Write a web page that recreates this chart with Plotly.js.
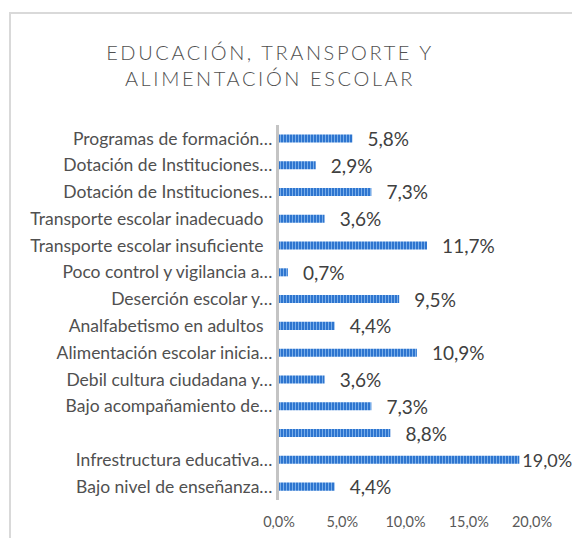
<!DOCTYPE html>
<html>
<head>
<meta charset="utf-8">
<script src="https://cdn.plot.ly/plotly-3.0.1.min.js"></script>
<style>
  html, body { margin: 0; padding: 0; background: #fff; }
  #frame { position: absolute; left: 9px; top: 12px; width: 600px; height: 600px; border: 2px solid #D9D9D9; box-sizing: border-box; }
  #chart { position: absolute; left: 0; top: 0; width: 572px; height: 538px; }
  #chart .gtitle { letter-spacing: 2.6px; }
</style>
</head>
<body>
<div id="frame"></div>
<div id="chart"></div>
<script>
const categories = [
  "Programas de formación…",
  "Dotación de Instituciones…",
  "Dotación de Instituciones…",
  "Transporte escolar inadecuado\u00a0\u00a0",
  "Transporte escolar insuficiente\u00a0\u00a0",
  "Poco control y vigilancia a…",
  "Deserción escolar y…",
  "Analfabetismo en adultos\u00a0\u00a0",
  "Alimentación escolar inicia…",
  "Debil cultura ciudadana y…",
  "Bajo acompañamiento de…",
  "\u00a0",
  "Infrestructura educativa…",
  "Bajo nivel de enseñanza…"
];
const values = [5.8, 2.9, 7.3, 3.6, 11.7, 0.7, 9.5, 4.4, 10.9, 3.6, 7.3, 8.8, 19.0, 4.4];
const xTickVals = [0, 5, 10, 15, 20];
const xTickText = ["0,0%", "5,0%", "10,0%", "15,0%", "20,0%"];

const positions = categories.map((_, i) => i);
const labels = values.map(v => {
  const s = v.toFixed(1).replace(".", ",") + "%";
  return v >= 18 ? s : "\u00a0\u00a0\u2009" + s;
});
const labelSizes = values.map(v => (v >= 18 ? 18 : 19));

const trace = {
  type: "bar",
  orientation: "h",
  x: values,
  y: positions,
  text: labels,
  textposition: "outside",
  cliponaxis: false,
  constraintext: "none",
  textfont: { family: "Lato, sans-serif", size: labelSizes, color: "#404040" },
  marker: {
    color: "#2E75CF",
    line: { width: 0 },
    pattern: { shape: "|", fgcolor: "#79AEEA", bgcolor: "#2E75CF", size: 3, solidity: 0.35 }
  },
  hoverinfo: "none"
};

const layout = {
  width: 572,
  height: 538,
  margin: { l: 279, r: 40, t: 125, b: 38 },
  paper_bgcolor: "rgba(0,0,0,0)",
  plot_bgcolor: "rgba(0,0,0,0)",
  showlegend: false,
  bargap: 0.7,
  title: {
    text: "EDUCACIÓN, TRANSPORTE Y<br>ALIMENTACIÓN ESCOLAR",
    font: { family: "Lato, sans-serif", size: 20, weight: 300, color: "#505050" },
    x: 0.472, xanchor: "center",
    y: 0.889, yanchor: "middle"
  },
  xaxis: {
    range: [0, 20],
    tickvals: xTickVals,
    ticktext: xTickText,
    showgrid: false,
    zeroline: false,
    showline: false,
    ticks: "outside",
    ticklen: 9,
    tickcolor: "rgba(0,0,0,0)",
    tickfont: { family: "Lato, sans-serif", size: 14.5, color: "#595959" }
  },
  yaxis: {
    range: [13.5, -0.5],
    tickvals: positions,
    ticktext: categories,
    showgrid: false,
    zeroline: false,
    showline: true,
    linecolor: "#C4C4C4",
    linewidth: 3,
    ticks: "",
    tickfont: { family: "Lato, sans-serif", size: 17.5, color: "#505050" }
  }
};

Plotly.newPlot("chart", [trace], layout, { displayModeBar: false, staticPlot: true });
</script>
</body>
</html>
